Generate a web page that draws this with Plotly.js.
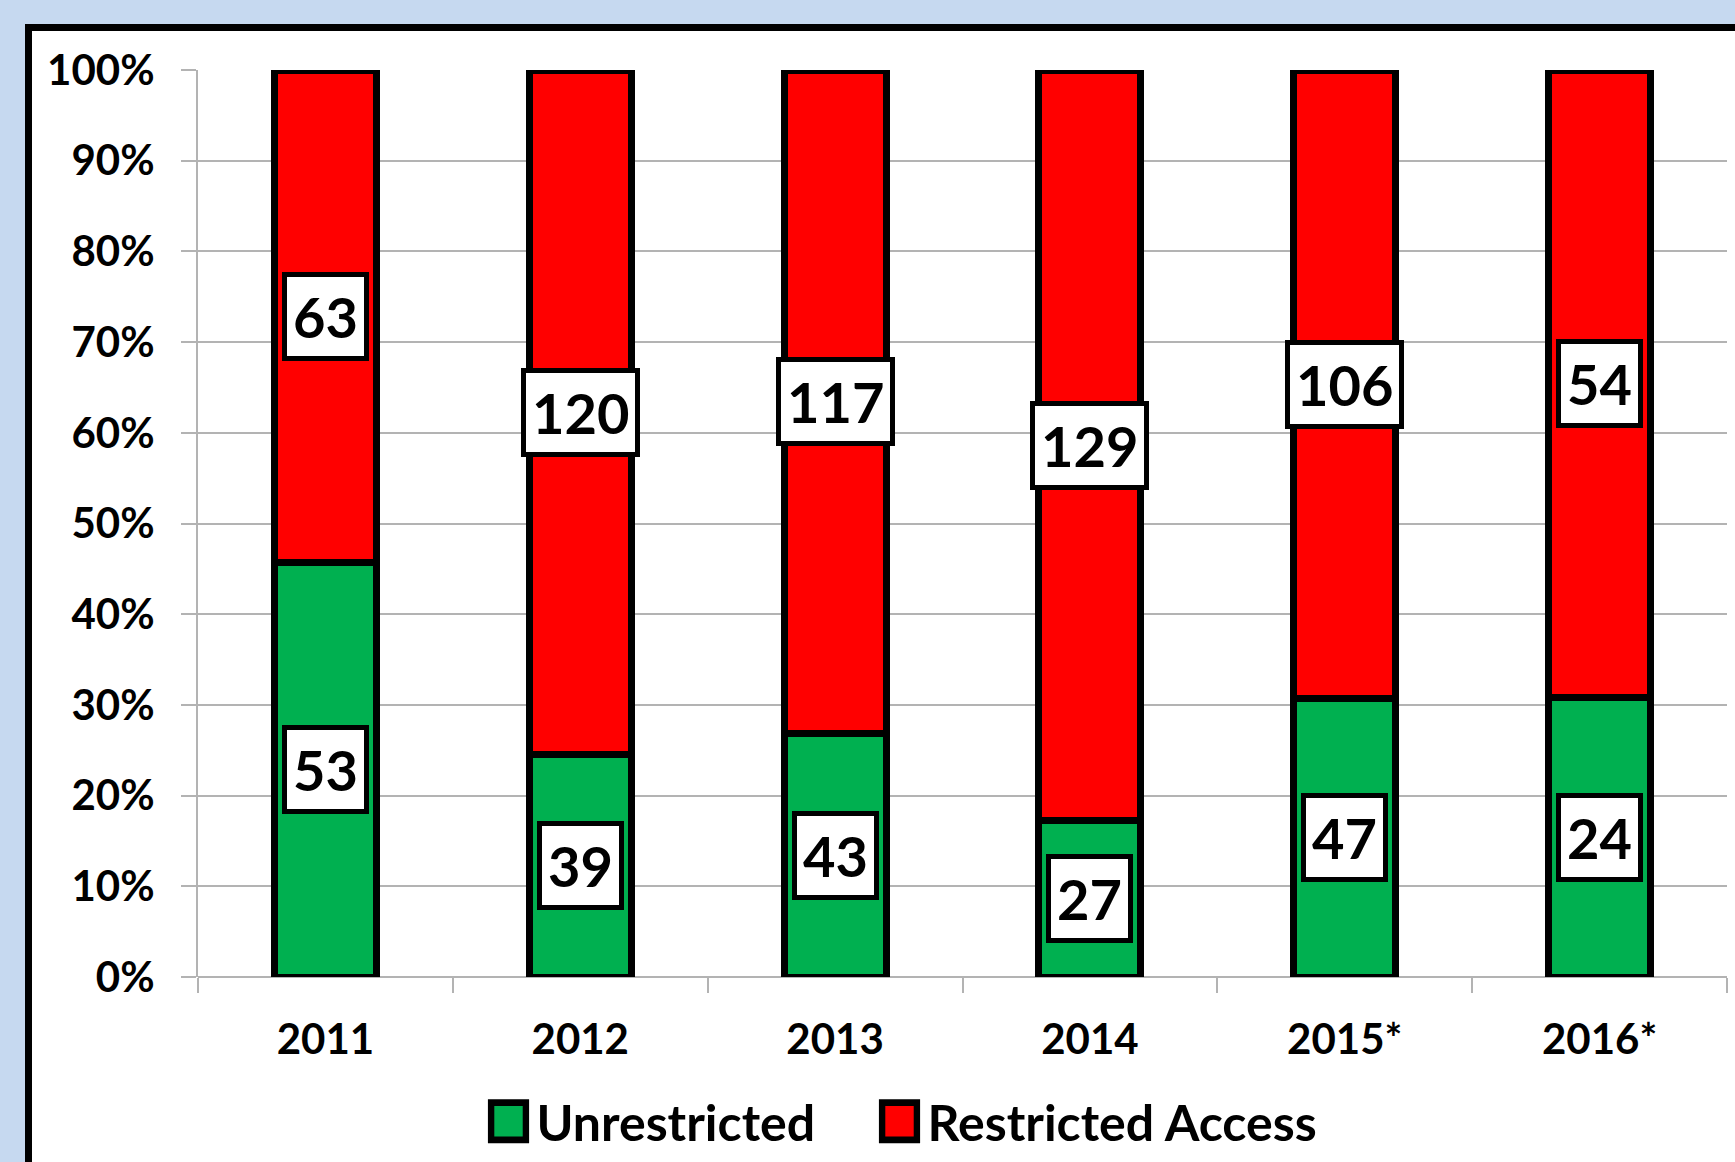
<!DOCTYPE html>
<html>
<head>
<meta charset="utf-8">
<script src="https://cdn.plot.ly/plotly-3.0.1.min.js"></script>
<style>
  html, body { margin: 0; padding: 0; background: #c6d9f0; overflow: hidden; }
  #frame { position: absolute; left: 25px; top: 24px; width: 1710px; height: 1138px;
           border-top: 7px solid #000; border-left: 7px solid #000; background: #fff; }
  #chart { width: 1703px; height: 1131px; }
</style>
</head>
<body>
<div id="frame"><div id="chart"></div></div>
<script>
const categories = ['2011', '2012', '2013', '2014', '2015*', '2016*'];
const unrestricted = [53, 39, 43, 27, 47, 24];
const restricted = [63, 120, 117, 129, 106, 54];
const yTickVals = [0, 10, 20, 30, 40, 50, 60, 70, 80, 90, 100];
const yTickText = ['0%', '10%', '20%', '30%', '40%', '50%', '60%', '70%', '80%', '90%', '100%'];

const FONT = 'Lato, "Open Sans", sans-serif';
const GRID = '#b3b3b3';

const traces = [
  { type: 'bar', name: 'Unrestricted', x: categories, y: unrestricted,
    marker: { color: '#00b050', line: { color: '#000', width: 7 } }, hoverinfo: 'skip' },
  { type: 'bar', name: 'Restricted Access', x: categories, y: restricted,
    marker: { color: '#ff0000', line: { color: '#000', width: 7 } }, hoverinfo: 'skip' }
];

const annotations = [];
categories.forEach((c, i) => {
  const tot = unrestricted[i] + restricted[i];
  const gShare = unrestricted[i] / tot * 100;
  [[unrestricted[i], gShare / 2], [restricted[i], gShare + (100 - gShare) / 2]].forEach(([v, y]) => {
    annotations.push({
      x: i, y: y, xref: 'x', yref: 'y', text: String(v), showarrow: false,
      font: { family: FONT, size: 56, color: '#000', weight: 'bold' },
      bgcolor: '#fff', bordercolor: '#000', borderwidth: 5, borderpad: 6
    });
  });
});

const layout = {
  width: 1703, height: 1131,
  margin: { l: 166, r: 8, t: 39, b: 185, autoexpand: false },
  paper_bgcolor: '#fff', plot_bgcolor: '#fff',
  barmode: 'stack', barnorm: 'percent', bargap: 0.6,
  font: { family: FONT, color: '#000', weight: 'bold' },
  showlegend: true,
  legend: { orientation: 'h', x: 0.19, xanchor: 'left', yref: 'container', y: 0.036, yanchor: 'middle',
            font: { family: FONT, size: 50, color: '#000', weight: 'bold' },
            entrywidth: 346, traceorder: 'normal' },
  xaxis: {
    type: 'category', range: [-0.5, 5.5], tickson: 'boundaries', ticks: 'outside', ticklen: 15, tickwidth: 2,
    tickcolor: GRID, showline: false, showgrid: false, ticklabelstandoff: 34, tickangle: 0,
    tickfont: { family: FONT, size: 42, color: '#000', weight: 'bold' }, fixedrange: true
  },
  yaxis: {
    range: [0, 100], tickvals: yTickVals, ticktext: yTickText, ticks: 'outside', ticklen: 15,
    tickwidth: 2, tickcolor: GRID, showgrid: true, gridcolor: GRID, gridwidth: 2,
    showline: true, linecolor: GRID, linewidth: 2, zeroline: true, zerolinecolor: GRID,
    zerolinewidth: 2, ticklabelstandoff: 18,
    tickfont: { family: FONT, size: 42, color: '#000', weight: 'bold' }, fixedrange: true
  },
  annotations: annotations
};

Plotly.newPlot('chart', traces, layout, { displayModeBar: false, staticPlot: true }).then(() => {
  document.querySelectorAll('.legend .scrollbox').forEach(s => s.removeAttribute('clip-path'));
  document.querySelectorAll('.legend').forEach(s => s.removeAttribute('clip-path'));
  document.querySelectorAll('.legendpoints path').forEach(p => {
    const t = p.getAttribute('transform') || '';
    p.setAttribute('transform', t + ' scale(2.9,3.1)');
    p.style.strokeWidth = '2.2px';
  });
  document.querySelectorAll('.legendtext').forEach(t => {
    t.setAttribute('x', String(parseFloat(t.getAttribute('x') || '40') + 8));
  });
});
</script>
</body>
</html>
